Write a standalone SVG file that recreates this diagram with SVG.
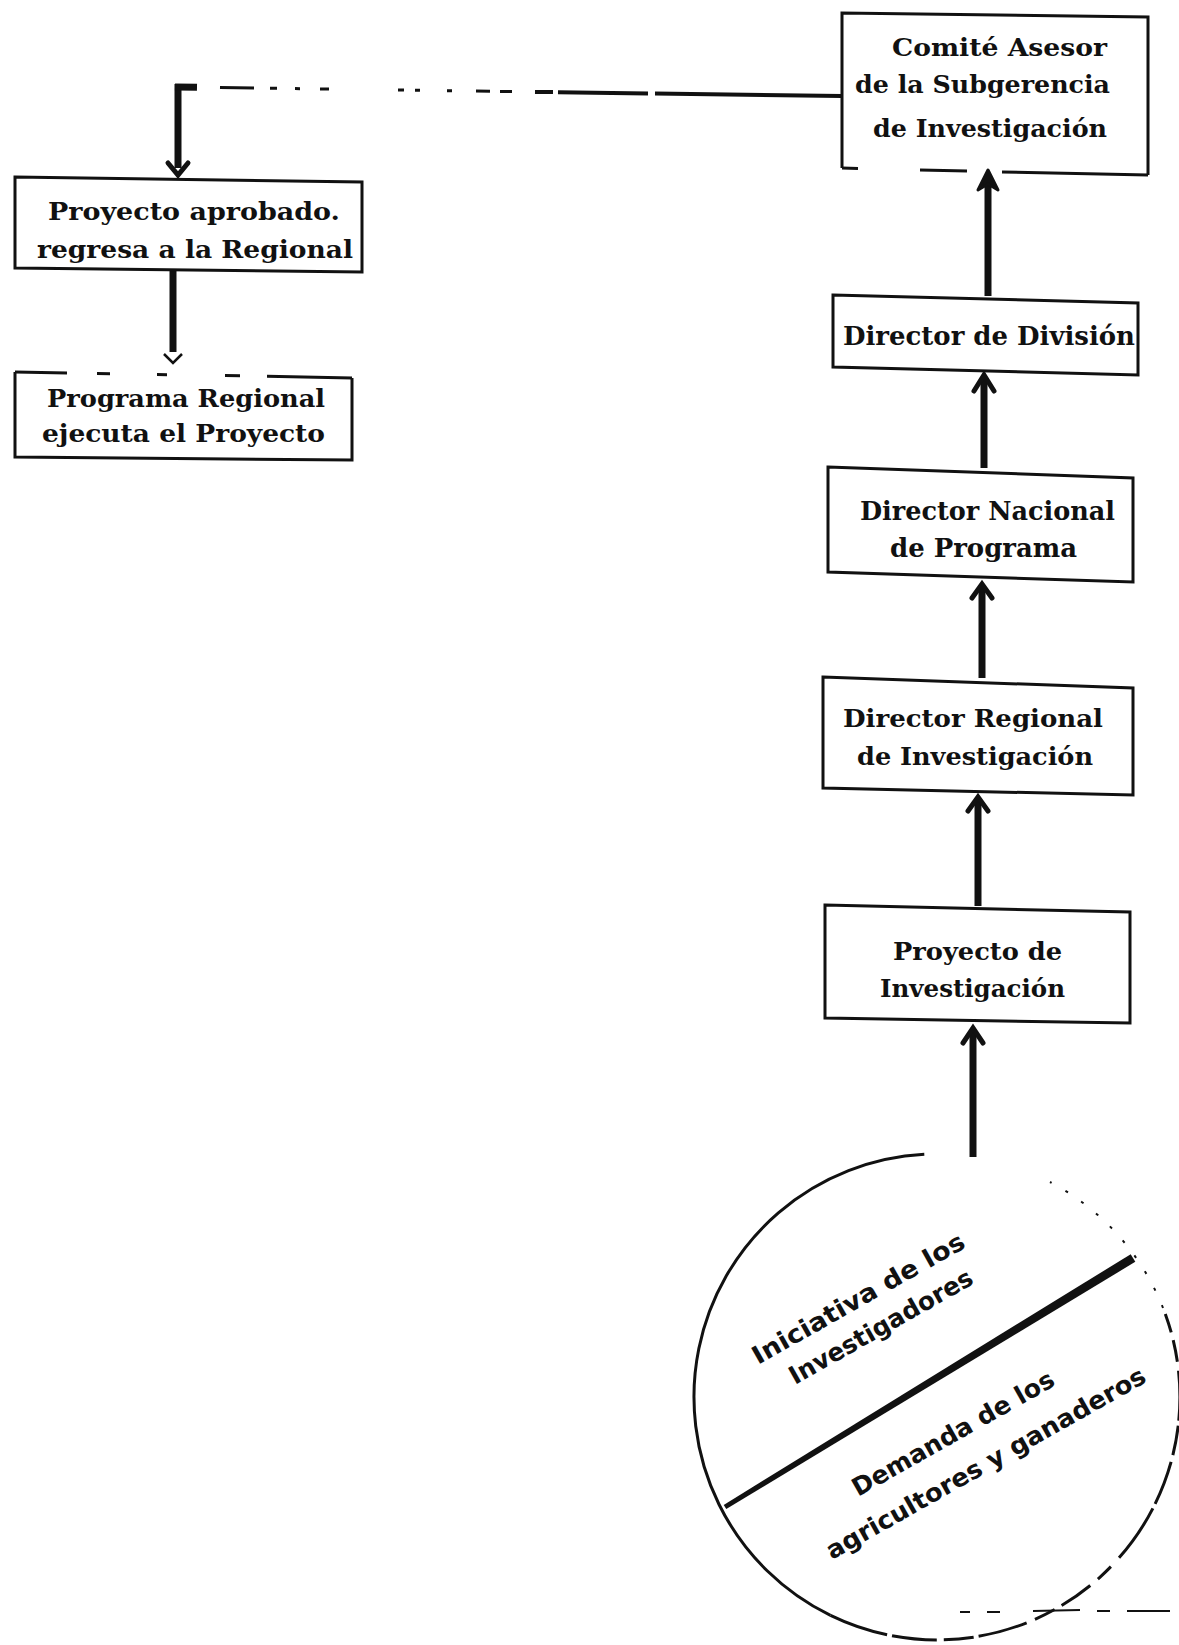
<svg xmlns="http://www.w3.org/2000/svg" width="1179" height="1645" viewBox="0 0 1179 1645">
  <style>
    .frame { fill: none; stroke: #111; stroke-width: 3; stroke-linejoin: miter; }
    .lbl { font-family: "DejaVu Serif", "Liberation Serif", serif; font-weight: bold; font-size: 24px; fill: #111; }
    .big { font-size: 26px; }
    .lbl2 { font-family: "DejaVu Sans", "Liberation Sans", sans-serif; font-weight: bold; font-size: 25px; fill: #111; }
    .wire { fill: none; stroke: #111; stroke-width: 7; stroke-linecap: butt; }
    .thin { fill: none; stroke: #111; stroke-width: 3; }
    .head { fill: none; stroke: #111; stroke-width: 5; stroke-linejoin: miter; stroke-linecap: round; }
  </style>
  <rect x="0" y="0" width="1179" height="1645" fill="#fff"/>

  <!-- connectors -->
  <g id="connectors">
    <!-- return path from the advisory committee back to the regional office -->
    <path class="wire" d="M178,84 L178,168"/>
    <path class="wire" d="M175,87 L197,87.3"/>
    <path class="thin" d="M220,87.6 L254,88 M270,88.3 L277,88.3 M295,88.6 L300,88.7 M320,88.9 L329,89.1 M398,90 L404,90.1 M415,90.2 L420,90.3 M447,90.7 L452,90.7 M476,91.1 L490,91.2 M500,91.4 L512,91.5"/>
    <path fill="none" stroke="#111" stroke-width="4" d="M535,91.9 L553,92.1 M558,92.2 L648,93.4 M655,93.5 L842,96"/>
    <path class="head" d="M168,163 L178,175 L188,163"/>

    <!-- approved project to regional programme -->
    <path class="wire" stroke-width="6" d="M173,271 L173,352"/>
    <path fill="none" stroke="#111" stroke-width="2.5" d="M164,354 L173,363 L182,354"/>

    <!-- upward chain on the right -->
    <path class="wire" d="M988,296 L988,180"/>
    <path d="M978,190 L988,170 L998,190 L988,184 Z" fill="#111" stroke="#111" stroke-width="3" stroke-linejoin="round"/>

    <path class="wire" d="M984,468 L984,378"/>
    <path class="head" d="M974,391 L984,375 L994,391"/>

    <path class="wire" d="M982,678 L982,588"/>
    <path class="head" d="M972,598 L982,584 L992,598"/>

    <path class="wire" d="M978,906 L978,800"/>
    <path class="head" d="M968,811 L978,797 L988,811"/>

    <path class="wire" d="M973,1157 L973,1032"/>
    <path class="head" d="M963,1043 L973,1028 L983,1043"/>
  </g>

  <!-- Comité Asesor -->
  <g id="comite">
    <path class="frame" d="M842,168 L842,13 L1148,17 L1148,175"/>
    <path class="frame" d="M842,168 L858,168.4 M920,170 L967,171 M1002,172 L1148,175"/>
    <text class="lbl" x="892" y="56" textLength="215" lengthAdjust="spacingAndGlyphs">Comité Asesor</text>
    <text class="lbl" x="855" y="93" textLength="255" lengthAdjust="spacingAndGlyphs">de la Subgerencia</text>
    <text class="lbl" x="873" y="137" textLength="234" lengthAdjust="spacingAndGlyphs">de Investigación</text>
  </g>

  <!-- Proyecto aprobado -->
  <g id="aprobado">
    <path class="frame" d="M15,177 L362,182 L362,272 L15,268 Z"/>
    <text class="lbl" x="48" y="220" textLength="292" lengthAdjust="spacingAndGlyphs">Proyecto aprobado.</text>
    <text class="lbl" x="37" y="258" textLength="316" lengthAdjust="spacingAndGlyphs">regresa a la Regional</text>
  </g>

  <!-- Programa Regional -->
  <g id="programa">
    <path class="frame" d="M15,372 L15,457 L352,460 L352,378"/>
    <path class="frame" d="M15,372 L67,373 M97,373.5 L110,373.7 M157,374.5 L167,374.7 M225,375.5 L240,375.7 M267,376.2 L352,378"/>
    <text class="lbl" x="47" y="407" textLength="278" lengthAdjust="spacingAndGlyphs">Programa Regional</text>
    <text class="lbl" x="42" y="442" textLength="283" lengthAdjust="spacingAndGlyphs">ejecuta el Proyecto</text>
  </g>

  <!-- Director de División -->
  <g id="division">
    <path class="frame" d="M833,295 L1138,303 L1138,375 L833,367 Z"/>
    <text class="lbl big" x="843" y="345" textLength="292" lengthAdjust="spacingAndGlyphs">Director de División</text>
  </g>

  <!-- Director Nacional de Programa -->
  <g id="nacional">
    <path class="frame" d="M828,467 L1133,478 L1133,582 L828,572 Z"/>
    <text class="lbl big" x="860" y="520" textLength="255" lengthAdjust="spacingAndGlyphs">Director Nacional</text>
    <text class="lbl big" x="890" y="557" textLength="187" lengthAdjust="spacingAndGlyphs">de Programa</text>
  </g>

  <!-- Director Regional de Investigación -->
  <g id="regional">
    <path class="frame" d="M823,677 L1133,688 L1133,795 L823,788 Z"/>
    <text class="lbl" x="843" y="727" textLength="260" lengthAdjust="spacingAndGlyphs">Director Regional</text>
    <text class="lbl" x="857" y="765" textLength="236" lengthAdjust="spacingAndGlyphs">de Investigación</text>
  </g>

  <!-- Proyecto de Investigación -->
  <g id="proyecto">
    <path class="frame" d="M825,905 L1130,912 L1130,1023 L825,1018 Z"/>
    <text class="lbl" x="893" y="960" textLength="169" lengthAdjust="spacingAndGlyphs">Proyecto de</text>
    <text class="lbl" x="880" y="997" textLength="185" lengthAdjust="spacingAndGlyphs">Investigación</text>
  </g>

  <!-- origin of projects: split circle -->
  <g id="origen">
    <path fill="none" stroke="#111" stroke-width="3" d="M924.3,1154.3 A243,243 0 0 0 830.5,1615.4"/>
    <path fill="none" stroke="#111" stroke-width="3" stroke-dasharray="60 5 45 7 30 5 50 9 22 8 35 10 18 12" d="M830.5,1615.4 A243,243 0 0 0 1165.3,1313.9"/>
    <path fill="none" stroke="#111" stroke-width="2" stroke-dasharray="3 16" d="M1163,1308 A243,243 0 0 0 1050,1182"/>
    <polygon fill="#111" points="723.7,1504.9 1130.7,1254.2 1135.3,1261.8 726.3,1509.1"/>
    <text class="lbl2" transform="translate(758,1365) rotate(-29.5)" textLength="240" lengthAdjust="spacingAndGlyphs">Iniciativa de los</text>
    <text class="lbl2" transform="translate(795,1385) rotate(-29.5)" textLength="207" lengthAdjust="spacingAndGlyphs">Investigadores</text>
    <text class="lbl2" transform="translate(858,1497) rotate(-29.5)" textLength="228" lengthAdjust="spacingAndGlyphs">Demanda de los</text>
    <text class="lbl2" transform="translate(832,1560) rotate(-29.5)" textLength="363" lengthAdjust="spacingAndGlyphs">agricultores y ganaderos</text>
  </g>

  <!-- broken rule across the lower right corner -->
  <path fill="none" stroke="#111" stroke-width="2" d="M960,1612 L970,1612 M987,1612 L1000,1612 M1033,1611 L1080,1610 M1097,1611 L1110,1611 M1127,1611 L1170,1611"/>
</svg>
